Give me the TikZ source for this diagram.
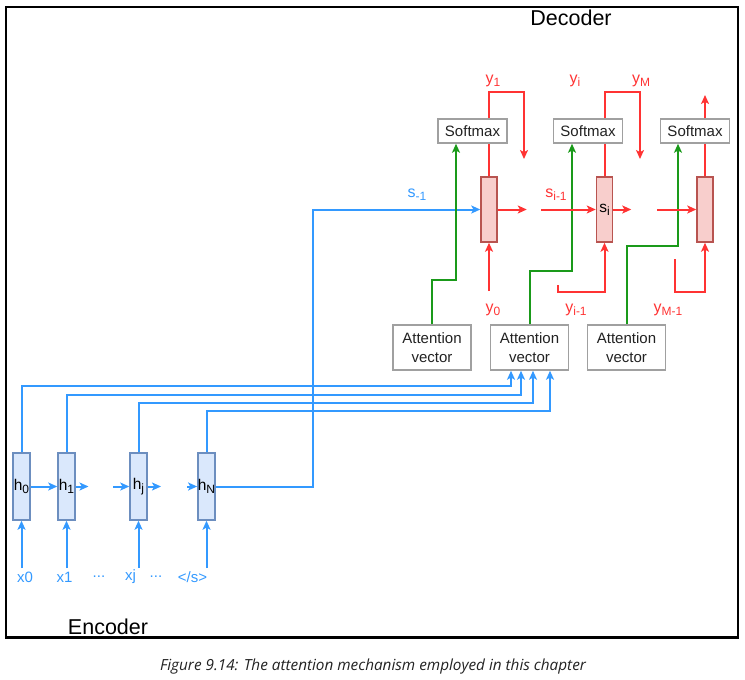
\documentclass[tikz,border=0pt]{standalone}
\usepackage{fontspec}
\usepackage{graphicx}
\setmainfont{Liberation Sans}
\newfontfamily\capfont{Open Sans}
\usetikzlibrary{arrows.meta}
\newcommand\sbs[1]{\raisebox{-0.35ex}{\fontsize{12}{13}\selectfont #1}}
\definecolor{cblue}{HTML}{3399FF}
\definecolor{cred}{HTML}{FF3333}
\definecolor{cgreen}{HTML}{1A9A1A}
\definecolor{encfill}{HTML}{DAE8FC}
\definecolor{encdraw}{HTML}{6C8EBF}
\definecolor{decfill}{HTML}{F8CECC}
\definecolor{decdraw}{HTML}{B85450}
\definecolor{boxdraw}{HTML}{A0A0A0}
\definecolor{txt}{HTML}{222222}
\tikzset{
  tip/.style={-{Stealth[length=9pt,width=8pt,inset=2.2pt]}},
  encbox/.style={draw=encdraw,fill=encfill,line width=1.5pt,minimum width=17pt,minimum height=67pt,inner sep=0pt,font=\fontsize{15.5}{17}\selectfont,text=black},
  decbox/.style={draw=decdraw,fill=decfill,line width=1.5pt,minimum width=16pt,minimum height=65pt,inner sep=0pt,font=\fontsize{15.5}{17}\selectfont,text=black},
  smbox/.style={draw=boxdraw,fill=white,line width=1.5pt,minimum width=69pt,minimum height=24pt,inner sep=0pt,font=\fontsize{15}{17}\selectfont,text=txt},
  avbox/.style={draw=boxdraw,fill=white,line width=1.5pt,minimum width=78pt,minimum height=45pt,inner sep=0pt,align=center,font=\fontsize{15}{18.5}\selectfont,text=txt},
  bline/.style={draw=cblue,line width=2pt},
  barrow/.style={bline,tip},
  rline/.style={draw=cred,line width=2pt},
  rarrow/.style={rline,tip},
  garrow/.style={draw=cgreen,line width=2pt,tip},
  blab/.style={text=cblue,font=\fontsize{15}{17}\selectfont,inner sep=0pt},
  rlab/.style={text=cred,font=\fontsize{16}{18}\selectfont,inner sep=0pt},
  title/.style={font=\fontsize{21.5}{25}\selectfont,inner sep=0pt}
}
\begin{document}
\begin{tikzpicture}[x=1pt,y=-1pt]
\useasboundingbox (0,0) rectangle (745,680);
\draw[line width=2.5pt] (6.2,7) rectangle (738,637.5);
% titles
\node[title] (dec) at (571,18) {Decoder};
\node[title] (enc) at (108,627) {Encoder};
% encoder boxes
\node[encbox] (e0) at (21.5,486.5) {h\sbs{0}};
\node[encbox] (e1) at (66.5,486.5) {h\sbs{1}};
\node[encbox] (ej) at (138.5,486.5) {h\sbs{j}};
\node[encbox] (eN) at (206.5,486.5) {h\sbs{N}};
% decoder boxes
\node[decbox] (d1) at (489,209.5) {};
\node[decbox] (d2) at (604.5,209.5) {s\sbs{i}};
\node[decbox] (d3) at (705,209.5) {};
% softmax
\node[smbox] (sm1) at (472.5,131) {Softmax};
\node[smbox] (sm2) at (588,131) {Softmax};
\node[smbox] (sm3) at (695,131) {Softmax};
% attention
\node[avbox] (av1) at (432,347.5) {Attention\\vector};
\node[avbox] (av2) at (529.5,347.5) {Attention\\vector};
\node[avbox] (av3) at (626.5,347.5) {Attention\\vector};
% encoder inputs
\node[blab] (x0) at (25,577) {x0};
\node[blab] (x1) at (64.5,577) {x1};
\node[blab] (dd1) at (99,577) {...};
\node[blab] (xj) at (130.5,577) {xj};
\node[blab] (dd2) at (156,577) {...};
\node[blab] (xs) at (192.5,577) {</s>};
\coordinate (i0) at (21.5,568);
\coordinate (i1) at (66.5,568);
\coordinate (ij) at (138.5,568);
\coordinate (iN) at (206.5,568);
\draw[barrow] (i0) -- (e0.south);
\draw[barrow] (i1) -- (e1.south);
\draw[barrow] (ij) -- (ej.south);
\draw[barrow] (iN) -- (eN.south);
% encoder chain
\coordinate (c1) at (88.5,486.5);
\coordinate (c2) at (113,486.5);
\coordinate (c3) at (161,486.5);
\coordinate (c4) at (187,486.5);
\draw[barrow] (e0.east) -- (e1.west);
\draw[barrow] (e1.east) -- (c1);
\draw[barrow] (c2) -- (ej.west);
\draw[barrow] (ej.east) -- (c3);
\draw[barrow] (c4) -- (eN.west);
% to attention vector
\coordinate (a0) at ([xshift=-18.5pt]av2.south);
\coordinate (a1) at ([xshift=-8.5pt]av2.south);
\coordinate (a2) at ([xshift=3.5pt]av2.south);
\coordinate (a3) at ([xshift=20.5pt]av2.south);
\draw[barrow] (e0.north) -- ++(0,-66) -| (a0);
\draw[barrow] (e1.north) -- ++(0,-57) -| (a1);
\draw[barrow] (ej.north) -- ++(0,-49) -| (a2);
\draw[barrow] (eN.north) -- ++(0,-41) -| (a3);
% s_-1
\draw[barrow] (eN.east) -- ++(97,0) |- (d1.west);
\node[text=cblue,font=\fontsize{16}{18}\selectfont,inner sep=0pt] (sm1lab) at (417,195) {s\sbs{-1}};
% green
\draw[garrow] (av1.north) -- ++(0,-44) -| ([xshift=-16.5pt]sm1.south);
\draw[garrow] (av2.north) -- ++(0,-53) -| ([xshift=-16pt]sm2.south);
\draw[garrow] (av3.north) -- ++(0,-78) -| ([xshift=-17pt]sm3.south);
% red decoder 1
\coordinate (y1e) at (524,159);
\coordinate (y0s) at (489,291);
\draw[rline] (d1.north) -- (d1.north |- sm1.south);
\draw[rarrow] (d1.north |- sm1.north) -- ++(0,-26) -| (y1e);
\draw[rarrow] (d1.east) -- ++(29,0);
\draw[rarrow] (y0s) -- (d1.south);
% red decoder 2
\coordinate (s2s) at (541,209.5);
\coordinate (yMe) at (640,159);
\coordinate (yis) at (558,285);
\draw[rarrow] (s2s) -- (d2.west);
\draw[rarrow] (d2.east) -- ++(18,0);
\draw[rline] (d2.north) -- (d2.north |- sm2.south);
\draw[rarrow] (d2.north |- sm2.north) -- ++(0,-26) -| (yMe);
\draw[rarrow] (yis) -- ++(0,7) -| (d2.south);
% red decoder 3
\coordinate (s3s) at (657,209.5);
\coordinate (yoe) at (705,95);
\coordinate (yMs) at (675,259);
\draw[rarrow] (s3s) -- (d3.west);
\draw[rline] (d3.north) -- (d3.north |- sm3.south);
\draw[rarrow] (d3.north |- sm3.north) -- (yoe);
\draw[rarrow] (yMs) -- ++(0,33) -| (d3.south);
% red labels
\node[rlab] (ly1) at (493,81) {y\sbs{1}};
\node[rlab] (lyi) at (575,81) {y\sbs{i}};
\node[rlab] (lyM) at (641,81) {y\sbs{M}};
\node[rlab] (lsi) at (556,195) {s\sbs{i-1}};
\node[rlab] (ly0) at (493,310) {y\sbs{0}};
\node[rlab] (lyi1) at (576,310) {y\sbs{i-1}};
\node[rlab] (lyM1) at (668,310) {y\sbs{M-1}};
% caption
\node[font=\capfont\itshape\fontsize{15.3}{17}\selectfont,text=txt,inner sep=0pt] (cap) at (373,667) {Figure 9.14: The attention mechanism employed in this chapter};
\end{tikzpicture}
\end{document}
